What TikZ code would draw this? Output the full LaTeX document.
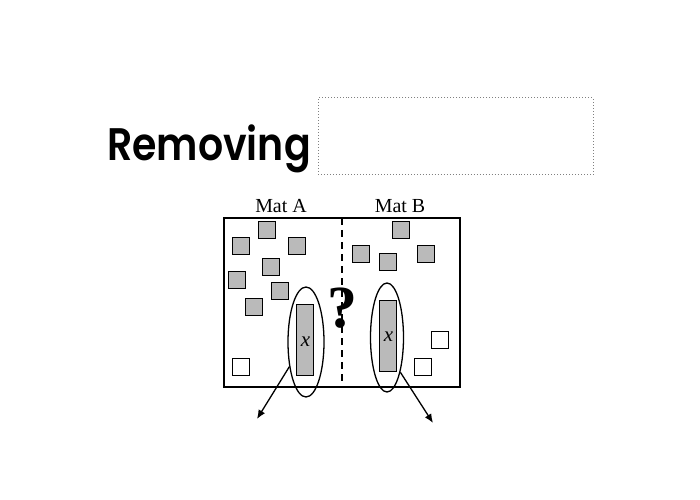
\documentclass[tikz,border=0pt]{standalone}
\usepackage{fontspec}
\setmainfont{Liberation Serif}
\newfontfamily\titlefont{Poppins SemiBold}
\usetikzlibrary{shapes.geometric,arrows.meta}
\definecolor{sqgray}{RGB}{186,186,186}
\tikzset{
  sq/.style={draw, fill=sqgray, minimum size=17bp, inner sep=0pt, line width=0.9bp},
  wsq/.style={sq, fill=white},
  tallrect/.style={draw, fill=sqgray, minimum width=17bp, minimum height=71bp, inner sep=0pt, line width=0.9bp},
  ring/.style={draw, ellipse, inner sep=0pt, line width=1.3bp},
  matlabel/.style={anchor=base, inner sep=0pt, font=\fontsize{20}{24}\selectfont},
  xlabel/.style={inner sep=0pt, font=\fontsize{21}{24}\selectfont\itshape},
  outarrow/.style={line width=1.3bp, -{Latex[length=9bp,width=7.5bp]}}
}
\begin{document}
\begin{tikzpicture}[x=1bp,y=-1bp]
\useasboundingbox (0,0) rectangle (700,500);
% title
\node[anchor=base west, inner sep=0pt] (title) at (107,161) {\scalebox{0.9}[1.04]{\titlefont\fontsize{44}{50}\selectfont Removing}};
\node[draw=gray, dotted, line width=1bp, minimum width=275bp, minimum height=77bp, inner sep=0pt] (blank) at (455.5,136.5) {};
% mats
\draw[line width=1.6bp] (224,218) rectangle (460,387);
\coordinate (dtop) at (342,218);
\coordinate (dbot) at (342,387);
\draw[line width=1.5bp, dash pattern=on 7bp off 5bp] (dtop) -- (dbot);
\node[matlabel] (matA) at (281,213) {Mat A};
\node[matlabel] (matB) at (400,213) {Mat B};
% gray squares left
\node[sq] (a1) at (266.5,230) {};
\node[sq] (a2) at (240.5,245.5) {};
\node[sq] (a3) at (297,245.5) {};
\node[sq] (a4) at (270.5,266.5) {};
\node[sq] (a5) at (237,279.5) {};
\node[sq] (a6) at (279.5,290.5) {};
\node[sq] (a7) at (253.5,307) {};
% gray squares right
\node[sq] (b1) at (400.5,230) {};
\node[sq] (b2) at (361,253.5) {};
\node[sq] (b3) at (387.5,261.5) {};
\node[sq] (b4) at (426,253.5) {};
% white squares
\node[wsq] (w1) at (240.5,366.5) {};
\node[wsq] (w2) at (422.5,366.5) {};
\node[wsq] (w3) at (439.5,340) {};
% tall rectangles and rings
\node[tallrect] (ta) at (304.5,339.5) {};
\node[tallrect] (tb) at (387.5,335.5) {};
\node[xlabel] (xa) at (305.5,342) {x};
\node[xlabel] (xb) at (388.5,337) {x};
\node[ring, minimum width=36bp, minimum height=110bp] (ea) at (306,342) {};
\node[ring, minimum width=33bp, minimum height=109bp] (eb) at (387,337.5) {};
% question mark
\node[inner sep=0pt, font=\bfseries\fontsize{60}{64}\selectfont] (q) at (342,308) {?};
% arrows
\coordinate (endA) at (257,419);
\coordinate (endB) at (433,423);
\draw[outarrow] (ea.236) -- (endA);
\draw[outarrow] (eb.291) -- (endB);
\end{tikzpicture}
\end{document}
